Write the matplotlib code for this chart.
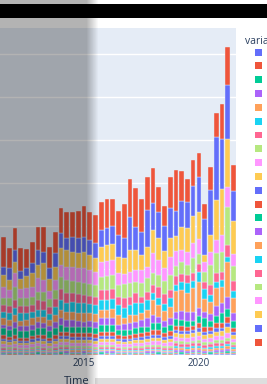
import numpy as np
import pandas as pd
import matplotlib
matplotlib.use("Agg")
import matplotlib.pyplot as plt
import matplotlib.dates as mdates
from matplotlib.patches import Rectangle, Patch

plt.rcParams['font.family'] = ['Open Sans', 'DejaVu Sans']

# quarterly time axis (2011 Q3 .. 2021 Q3)
dates = pd.date_range('2011-07-01', periods=41, freq='QS')

# stacked series, bottom of the stack first (trace order of the plotly chart)
s00 = [1,0.5,0.5,1,0.5,0.5,1,0.5,0.5,1, 0.5,1,0.5,0.5,1,0.5,0.5,1,0.5,1,
       0.5,0.5,1,0.5,0.5,1,0.5,1,0.5,0.5, 1,1,0.5,1,1,0.5,1,1,1,1.5,1]
s01 = [0.5,1,0.5,0.5,1,0.5,0.5,1,0.5,0.5, 1,0.5,1,0.5,0.5,1,0.5,0.5,1,0.5,
       1,0.5,0.5,1,0.5,0.5,1,0.5,1,0.5, 1,0.5,1,1,1,1,0.5,1,1,1,1]
s02 = [1,1,1.5,1,1,1,1.5,1,1,1, 1.5,1,1,1.5,1,1,1,1.5,1,1,
       1,1,1,1,1.5,1,1,1.5,1,1, 1.5,1.5,1,1.5,1.5,1,1.5,1.5,1.5,2,1]
s03 = [1,1,1,1,1,1,1,1,1,1, 1.5,1.5,1,1,1.5,1,1,1.5,1.5,1.5,
       1,1,1,1,1,1.5,1.5,1,1,1.5, 2,2,2,2,2,1.5,1.5,2,2,2,1.5]
s04 = [1,1,1,1,1,1,1,1,1,1, 1,1,1.5,1.5,1,1.5,1,1,1,1,
       1,1,1,1,1,1,1.5,1.5,1,1, 2,2,2,2,2,2,2,2,2,2.5,2]
s05 = [1,1,1,0.5,0.5,1,1,1,0.5,1, 1,1,1,1,1,1,1,1,1,1,
       1,1,1,1,1,1,1,1,1,1, 1.5,1.5,1.5,1.5,1.5,1.5,1.5,1.5,1.5,2,1.5]
s06 = [1.5,1,1.5,1,1,1.5,1.5,1.5,1,1.5, 2,2,1.5,1.5,1.5,1.5,1.5,2,2,2,
       1.5,1.5,1.5,1.5,2,2,2,2,2,2, 3,3,3,3,3,3,3,3,3,3,2.5]
s07 = [1.5,1.5,1.5,1.5,1.5,1.5,1.5,1.5,1.5,1.5, 2,2,2,2,2,2,2,2,2,2,
       1.5,1.5,1.5,2,2,2,2,2,2,2, 2.5,2.5,2.5,2.5,3,2.5,2.5,3,3,3,2.5]
s08 = [3,2.5,3,2.5,2.5,3,3,3,2.5,3, 3,3,3,3,3,3,3,3,3,3,
       3,3,3,3,3,3.5,3.5,3.5,3,3.5, 3.5,3.5,3.5,3.5,4,3.5,3.5,4,4,5,3.5]
s09 = [2.5,2.5,2.5,2.5,2.5,2.5,2.5,2.5,2.5,2.5, 3,3,3,3,3,3,3,3,3,3,
       2.5,2.5,2.5,3,3,3,3.5,3.5,3,3.5, 4,4,4,4,4.5,4,4,4.5,5,6,4]
s10 = [2.5,2,2.5,2,2,2.5,2.5,2.5,2,2.5, 3,3,3,3,3,3,2.5,3,3,3,
       2.5,2.5,2.5,2.5,3,3,3,3,3,3, 3,3,3,3,3.5,3,3,3.5,3.5,4,3]
s11 = [3.5,3,3.5,3,3,3.5,3.5,3.5,3,3.5, 4,4,4,4,4,4,4,4,4,4,
       3.5,3.5,3.5,3.5,4,4,4.5,4.5,4,4.5, 4.5,4.5,4.5,4.5,5,4.5,4.5,5,5,6,4]
s12 = [7,7,7,7,7,6,7,7,7,7, 7,5,6,6,6,6,6,7,7,7,
       5,6,5,6,6,5,7,7,6,6, 7,6,6,5,7,9,6,7,10,8,7]
s13 = [3,4,6,5,5,5,6,5,5,6, 7,7,7,6,5,6,6,7,7,7,
       5,6,7,6,7,9,8,6,6,7, 7,9,9,9,8,6,7,10,10,12,8]
s14 = [7,6,7,5,6,7,5,6,6,7, 8,8,8,8,9,8,8,8,8,9,
       10,6,8,7,7,8,15,12,10,11, 21,21,19,24,26,13,12,18,16,35,15]
s15 = [6,7,7,8,7,6,7,7,6,8, 10,9,10,10,10,9,9,10,10,10,
       10,10,10,12,10,10,7,7,7,9, 6,8,10,7,10,10,7,6,7,5,7]
s16 = [7,7,8,7,7,7,10,9,7,8, 11,10,9,9,8,8,8,10,10,10,
       8,10,8,10,6,8,8,11,10,8, 9,8,8,8,8,7,10,9,8,12,10]
s17 = [7,8,13,8,8,8,8,9,8,9, 12,13,12,12,12,12,12,13,14,14,
       12,14,14,11,14,14,12,12,13,15, 10,12,10,15,10,10,20,20,20,38,15]
s18 = [11,8,14,9,10,10,14,12,8,10, 12,13,14,14,15,14,13,15,15,15,
       12,10,11,12,13,11,20,15,13,18, 15,12,13,15,15,10,13,13,17,20,12]
s19 = [12,10,11,10,12,14,13,17,12,13, 17,17,15,15,16,15,14,15,16,16,
       16,16,22,20,15,20,23,22,17,19, 15,23,24,27,27,7,17,40,46,48,33]
s20 = [8,12,12,8,8,10,15,11,11,14, 15,12,15,15,15,15,15,17,17,18,
       22,20,33,23,23,37,27,26,25,30, 25,26,26,30,35,36,45,63,50,54,30]
s21 = [30,20,22,23,19,21,23,25,21,21, 25,26,25,27,31,28,28,28,29,27,
       24,34,38,39,33,33,35,25,20,31, 41,30,23,26,24,15,23,24,35,38,26]

series = [s00, s01, s02, s03, s04, s05, s06, s07, s08, s09, s10,
          s11, s12, s13, s14, s15, s16, s17, s18, s19, s20, s21]
names = ['s%02d' % i for i in range(len(series))]

palette = ['#636EFA', '#EF553B', '#00CC96', '#AB63FA', '#FFA15A',
           '#19D3F3', '#FF6692', '#B6E880', '#FF97FF', '#FECB52']
colors = [palette[i % 10] for i in range(len(series))]

W, H = 267, 384
fig = plt.figure(figsize=(W / 100, H / 100), dpi=100)
fig.patch.set_facecolor('white')

ax = fig.add_axes([0, (H - 355) / H, 236 / W, (355 - 28) / H])
ax.set_facecolor('#E5ECF6')
for sp in ax.spines.values():
    sp.set_visible(False)

x = mdates.date2num(dates.to_pydatetime())
bottom = np.zeros(len(x))
for vals, col in zip(series, colors):
    ax.bar(x, vals, width=73, bottom=bottom, color=col,
           edgecolor='#E5ECF6', linewidth=0.3, zorder=2)
    bottom += np.array(vals)

ax.set_xlim(mdates.date2num(pd.Timestamp('2011-05-07')),
            mdates.date2num(pd.Timestamp('2021-08-11')))
ax.set_ylim(0, 327)

# y tick labels are cut off in the reference, only the grid shows
ax.set_yticks(np.arange(43, 327, 43))
ax.yaxis.grid(True, color='white', linewidth=1, zorder=0)
ax.set_axisbelow(True)
ax.tick_params(axis='y', left=False, labelleft=False)

ax.xaxis.set_major_locator(mdates.YearLocator(5))
ax.xaxis.set_major_formatter(mdates.DateFormatter('%Y'))
ax.tick_params(axis='x', length=0, pad=2.5, labelsize=7, labelcolor='#2a3f5f')
ax.set_xlabel('Time', fontsize=8, color='#2a3f5f')
ax.xaxis.set_label_coords(77 / 236, -21 / 327)

# legend (labels fall outside the cropped picture)
handles = [Patch(facecolor=c, edgecolor='none') for c in colors]
fig.legend(handles, names, loc='upper left',
           bbox_to_anchor=(255 / W, 1 - 47.5 / H), frameon=False,
           fontsize=7, handlelength=0.72, handleheight=0.72,
           labelspacing=0.29, borderpad=0, borderaxespad=0, handletextpad=0.6)
fig.text(245 / W, 1 - 41 / H, 'variable', fontsize=7.5, color='#2a3f5f',
         ha='left', va='center')

# screenshot artefacts: grey strip at the bottom right, black band at the top
fig.add_artist(Rectangle((95 / W, 0), 1, 6 / H, transform=fig.transFigure,
                         facecolor='#dedede', edgecolor='none', zorder=8))
fig.add_artist(Rectangle((0, 1 - 18 / H), 1, 14 / H, transform=fig.transFigure,
                         facecolor='black', edgecolor='none', zorder=20))

# darkened panel on the left side of the screenshot
ov = fig.add_axes([0, 0, 1, 1], zorder=10)
ov.set_axis_off()
cols = np.arange(W)
alpha = np.interp(cols, [0, 86, 98, W], [0.3, 0.3, 0.0, 0.0])
img = np.zeros((1, W, 4))
img[0, :, 3] = alpha
ov.imshow(img, extent=[0, W, 0, H], aspect='auto', interpolation='bilinear')
ov.set_xlim(0, W)
ov.set_ylim(0, H)

fig.savefig('out.png', dpi=100)
